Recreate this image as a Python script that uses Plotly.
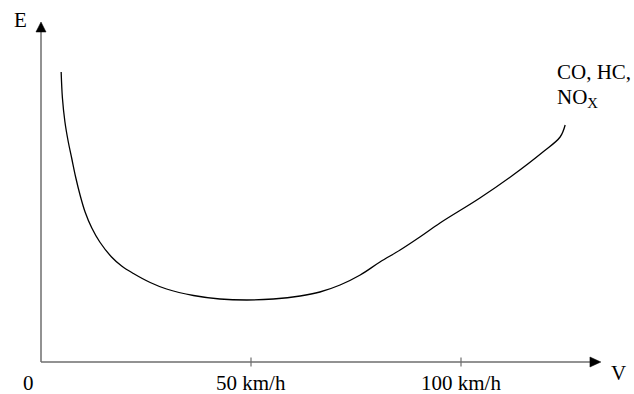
import plotly.graph_objects as go

# Speed (km/h) and emission level (arbitrary units)
speed = [4.8, 5.1, 5.7, 6.5, 7.3, 8.3, 9.3, 10.5, 12.1, 14.0, 16.8, 19.2,
         22.0, 26.0, 29.9, 36.3, 42.6, 49.0, 55.3, 61.7, 66.4, 71.2, 76.0,
         80.7, 85.5, 90.2, 95.0, 104.5, 112.4, 119.5, 123.6, 124.8]
emission = [29.0, 26.4, 24.0, 22.0, 20.4, 18.4, 16.7, 15.0, 13.4, 12.0, 10.5, 9.6,
            8.85, 7.95, 7.3, 6.65, 6.3, 6.2, 6.3, 6.6, 7.0, 7.7, 8.7,
            10.0, 11.2, 12.5, 13.9, 16.4, 18.7, 21.0, 22.5, 23.7]

tick_values = [50, 100]
tick_labels = ["50 km/h", "100 km/h"]
x_label = "V"
y_label = "E"
curve_label = ["CO, HC,", "NO<sub>X</sub>"]

FONT = "Liberation Serif, Times New Roman, serif"
AX = "#6e6e6e"
FS = 21

fig = go.Figure()
fig.add_trace(go.Scatter(x=speed, y=emission, mode="lines",
                         line=dict(color="black", width=1.3, shape="spline", smoothing=1.0),
                         hoverinfo="skip", showlegend=False))

X0, X1 = -41 / 4.2, (634 - 41) / 4.2
Y0, Y1 = -3.2, 36.2
x_end = 130.7
x_tip = 133.3
y_end = 33.0
y_tip = 34.0

shapes = [
    dict(type="line", x0=0, x1=x_end, y0=0, y1=0, line=dict(color=AX, width=1.5)),
    dict(type="line", x0=0, x1=0, y0=0, y1=y_end, line=dict(color=AX, width=1.5)),
    dict(type="path", path=f"M {x_end},{-0.5} L {x_tip},0 L {x_end},{0.5} Z",
         fillcolor="black", line=dict(color="black", width=0.5)),
    dict(type="path", path=f"M {-1.2},{y_end} L 0,{y_tip} L {1.2},{y_end} Z",
         fillcolor="black", line=dict(color="black", width=0.5)),
]
for tv in tick_values:
    shapes.append(dict(type="line", x0=tv, x1=tv, y0=-0.45, y1=0.45,
                       line=dict(color=AX, width=1.2)))

def txt(x, y, t, **kw):
    return dict(x=x, y=y, text=t, showarrow=False,
                font=dict(family=FONT, size=FS, color="black"), **kw)

annotations = [txt(-2.86, -2.05, "0")]
for tv, tl in zip(tick_values, tick_labels):
    annotations.append(txt(tv, -2.05, tl))
annotations += [
    txt(137.6, -1.1, x_label),
    txt(-5.0, 34.2, y_label),
    txt(122.4, 29.0, curve_label[0], xanchor="left"),
    txt(122.4, 26.4, curve_label[1], xanchor="left"),
]

fig.update_layout(
    width=634, height=394,
    margin=dict(l=0, r=0, t=0, b=0),
    paper_bgcolor="white", plot_bgcolor="white",
    xaxis=dict(range=[X0, X1], visible=False, fixedrange=True),
    yaxis=dict(range=[Y0, Y1], visible=False, fixedrange=True),
    shapes=shapes, annotations=annotations,
)

fig.write_html("out.html", config={"displayModeBar": False},
               post_script="document.body.style.margin='0px';")
